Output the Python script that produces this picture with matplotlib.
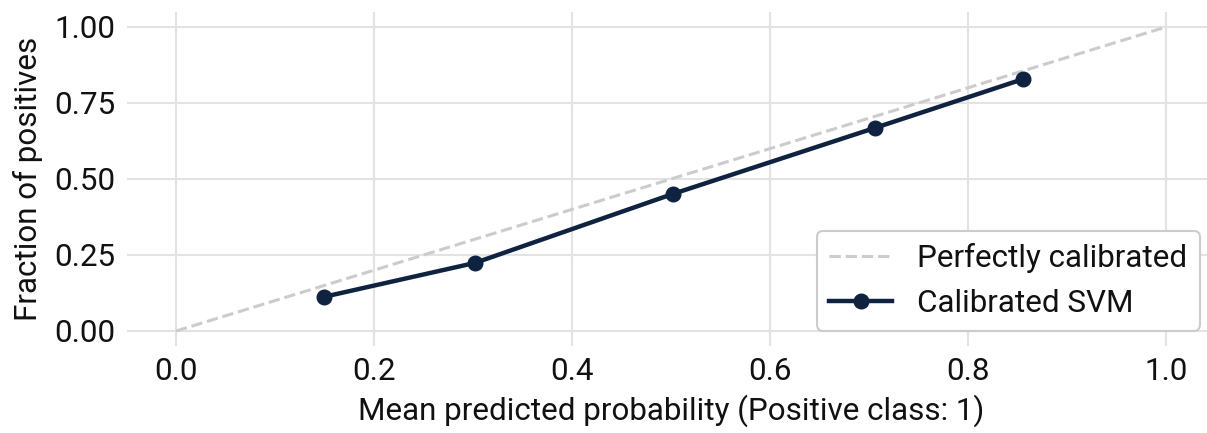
import matplotlib
matplotlib.use("Agg")
import matplotlib.pyplot as plt

mean_pred = [0.149, 0.302, 0.502, 0.706, 0.856]
frac_pos = [0.112, 0.224, 0.451, 0.668, 0.829]
diag = [0.0, 1.0]
xticks = [0.0, 0.2, 0.4, 0.6, 0.8, 1.0]
yticks = [0.0, 0.25, 0.5, 0.75, 1.0]

plt.rcParams['font.family'] = ['Roboto', 'DejaVu Sans']
FS = 22.6

W, H = 1207, 433
fig = plt.figure(figsize=(W / 100, H / 100), dpi=100)
left, right = 126.5, 1215.5
top, bottom = 11.8, 346.2
ax = fig.add_axes([left / W, 1 - bottom / H, (right - left) / W, (bottom - top) / H])

ax.plot(diag, diag, linestyle='--', color='#cccccc', lw=2.2, label='Perfectly calibrated', zorder=2)
ax.plot(mean_pred, frac_pos, '-o', color='#0f2340', lw=3.2, ms=10.5, label='Calibrated SVM', zorder=3)

ax.set_xlim(-0.05, 1.05)
ax.set_ylim(-0.05, 1.05)
ax.set_xticks(xticks)
ax.set_yticks(yticks)
ax.set_xticklabels([f"{v:.1f}" for v in xticks])
ax.set_yticklabels([f"{v:.2f}" for v in yticks])
ax.tick_params(length=0, pad=8, labelsize=FS, colors='#111111')
ax.grid(True, color='#e3e3e3', lw=1.5)
ax.set_axisbelow(True)
for s in ax.spines.values():
    s.set_visible(False)
ax.set_xlabel('Mean predicted probability (Positive class: 1)', fontsize=FS, color='#111111', labelpad=6)
ax.set_ylabel('Fraction of positives', fontsize=FS, color='#111111', labelpad=8)

leg = ax.legend(loc='lower right', fontsize=FS, frameon=True, fancybox=True,
                edgecolor='#cccccc', framealpha=1, handlelength=2.0, borderaxespad=0.5)
leg.get_frame().set_linewidth(1.5)
for t in leg.get_texts():
    t.set_color('#111111')

fig.savefig('out.png', dpi=100)
